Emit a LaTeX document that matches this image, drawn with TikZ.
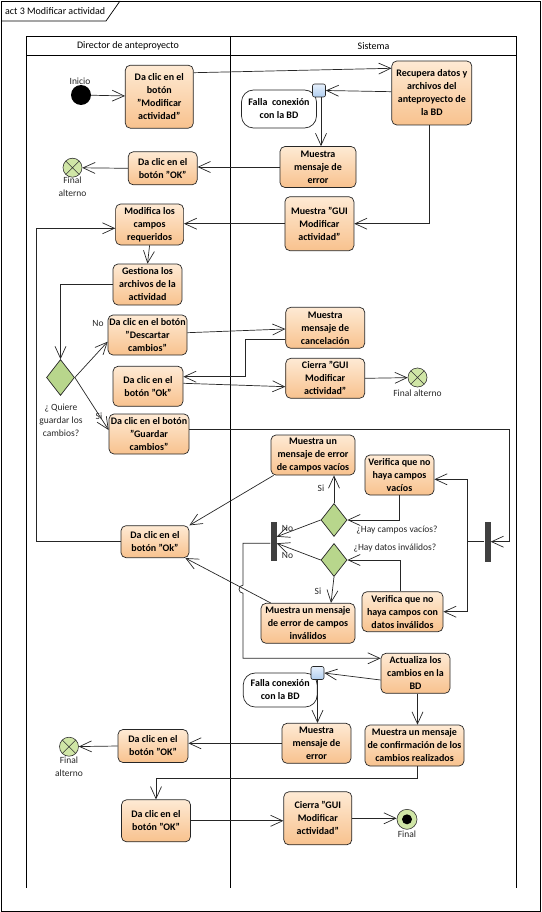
\documentclass[tikz,border=0pt]{standalone}
\usepackage{fontspec}
\setmainfont{Carlito}
\usetikzlibrary{arrows.meta,shapes.geometric,calc}

\definecolor{actTop}{RGB}{254,234,212}
\definecolor{actBot}{RGB}{248,194,142}
\definecolor{decFill}{RGB}{184,214,140}
\definecolor{endFill}{RGB}{208,230,166}
\definecolor{pinTop}{RGB}{230,240,252}
\definecolor{pinBot}{RGB}{176,206,240}
\definecolor{barFill}{RGB}{64,64,64}

\tikzset{
  act/.style={draw=black!85, line width=0.7pt, rounded corners=5pt,
    top color=actTop, bottom color=actBot, align=center, inner sep=1pt,
    font=\bfseries\fontsize{10}{13}\selectfont},
  failbox/.style={draw=black!85, line width=0.7pt, rounded corners=12pt,
    fill=white, align=center, inner sep=1pt,
    font=\bfseries\fontsize{10}{13}\selectfont},
  pinbox/.style={draw=black!85, line width=0.6pt, rounded corners=2pt,
    top color=pinTop, bottom color=pinBot, minimum size=13pt, inner sep=0pt},
  decision/.style={diamond, draw=black!85, line width=0.7pt, fill=decFill,
    minimum width=28pt, minimum height=36pt, inner sep=0pt},
  smalldec/.style={decision, minimum width=26pt, minimum height=33pt},
  forkbar/.style={draw=none, fill=barFill, minimum width=6pt, minimum height=40pt, inner sep=0pt},
  startnode/.style={circle, fill=black, minimum size=20pt, inner sep=0pt},
  altend/.style={circle, draw=black!80, line width=0.6pt, fill=endFill, minimum size=19pt, inner sep=0pt,
    path picture={\draw[line width=0.6pt, black!80]
      (path picture bounding box.south west) -- (path picture bounding box.north east)
      (path picture bounding box.north west) -- (path picture bounding box.south east);}},
  endnode/.style={circle, draw=black!80, line width=0.6pt, fill=endFill, minimum size=20pt, inner sep=0pt,
    path picture={\fill[black] (path picture bounding box.center) circle[radius=5pt];}},
  lbl/.style={font=\fontsize{9.5}{13}\selectfont, text=black!85, inner sep=0pt, align=center},
  head/.style={font=\fontsize{10}{13}\selectfont, text=black, inner sep=0pt},
  flow/.style={draw=black!85, line width=0.7pt, -{Straight Barb[length=12pt,width=11pt]}},
}

\begin{document}
\begin{tikzpicture}[x=1pt,y=-1pt]
\useasboundingbox (0,0) rectangle (541,912);

% frame with its name tab
\draw[line width=0.8pt] (1,1) rectangle (540,911);
\draw[line width=0.7pt] (1,21) -- (106,21) -- (120,1);
\node[head, anchor=west] (title) at (5,11) {act 3 Modificar actividad};

% swimlanes
\draw[line width=0.8pt] (26,36) rectangle (516.6,55);
\draw[line width=0.8pt] (26,55) -- (26,887.7) (230.5,36) -- (230.5,887.7) (516.6,55) -- (516.6,887.7);
\node[head] (laneA) at (128,45.7) {Director de anteproyecto};
\node[head] (laneB) at (373.5,45.7) {Sistema};

% ---------- nodes ----------
\node[startnode] (ini) at (81,95) {};
\node[lbl, anchor=south] (iniL) at (80,85) {Inicio};

\node[act, minimum width=68pt, minimum height=63pt] (A1) at (159.3,96.7)
  {Da clic en el\\botón\\"Modificar\\actividad"};
\node[act, minimum width=80pt, minimum height=64pt] (S1) at (431.8,93)
  {Recupera datos y\\archivos del\\anteproyecto de\\la BD};
\node[failbox, minimum width=75pt, minimum height=38pt] (F1b) at (279,109)
  {Falla\ \ conexión\\con la BD};
\node[pinbox] (P1) at (319,90.5) {};
\node[act, minimum width=76pt, minimum height=41pt] (S2) at (318,167)
  {Muestra\\mensaje de\\error};
\node[act, minimum width=69pt, minimum height=33pt] (A2) at (162.7,168.3)
  {Da clic en el\\botón "OK"};
\node[altend] (E1) at (72.5,167.7) {};
\node[lbl, anchor=north] (E1L) at (72.5,177) {Final\\alterno};

\node[act, minimum width=69pt, minimum height=54pt] (S3) at (319.4,223.7)
  {Muestra "GUI\\Modificar\\actividad"};
\node[act, minimum width=68pt, minimum height=41pt] (A3) at (149.6,224.5)
  {Modifica los\\campos\\requeridos};
\node[act, minimum width=69pt, minimum height=41pt] (A4) at (147.5,284.5)
  {Gestiona los\\archivos de la\\actividad};

\node[decision] (D1) at (60.5,377.5) {};
\node[lbl, anchor=north] (D1L) at (61,404) {¿ Quiere\\guardar los\\cambios?};

\node[act, minimum width=79pt, minimum height=40pt] (A5) at (147.5,335)
  {Da clic en el botón\\"Descartar\\cambios"};
\node[act, minimum width=79pt, minimum height=41pt] (S4) at (325.2,327.8)
  {Muestra\\mensaje de\\cancelación};
\node[act, minimum width=70pt, minimum height=40pt] (A7) at (148,386.3)
  {Da clic en el\\botón "Ok"};
\node[act, minimum width=79pt, minimum height=40pt] (S5) at (325.2,378.3)
  {Cierra "GUI\\Modificar\\actividad"};
\node[altend] (E2) at (417.5,377.5) {};
\node[lbl, anchor=north] (E2L) at (417.5,390) {Final alterno};
\node[act, minimum width=80pt, minimum height=40pt] (A6) at (149,434)
  {Da clic en el botón\\"Guardar\\cambios"};

\node[act, minimum width=84pt, minimum height=40pt] (S8) at (313,455)
  {Muestra un\\mensaje de error\\de campos vacíos};
\node[act, minimum width=69pt, minimum height=40pt] (S6) at (399.5,475)
  {Verifica que no\\haya campos\\vacíos};
\node[smalldec] (D2) at (334,520) {};
\node[smalldec] (D3) at (334,560) {};
\node[lbl] (D2L) at (397,530) {¿Hay campos vacíos?};
\node[lbl] (D3L) at (395,548) {¿Hay datos inválidos?};
\node[forkbar] (B1) at (487.5,541.7) {};
\node[forkbar, minimum height=39pt] (B2) at (273.5,541) {};
\node[act, minimum width=68pt, minimum height=32pt] (A8) at (155,541.7)
  {Da clic en el\\botón "Ok"};
\node[act, minimum width=94pt, minimum height=40pt] (S9) at (308,623.3)
  {Muestra un mensaje\\de error de campos\\inválidos};
\node[act, minimum width=81pt, minimum height=40pt] (S7) at (402.5,611.7)
  {Verifica que no\\haya campos con\\datos inválidos};

\node[act, minimum width=69pt, minimum height=40pt] (S10) at (415.5,673.3)
  {Actualiza los\\cambios en la\\BD};
\node[failbox, minimum width=74pt, minimum height=34pt] (F2b) at (280.2,690)
  {Falla conexión\\con la BD};
\node[pinbox] (P2) at (317.5,673) {};
\node[act, minimum width=69pt, minimum height=40pt] (S11) at (316.5,743.3)
  {Muestra\\mensaje de\\error};
\node[act, minimum width=99pt, minimum height=41pt] (S12) at (414.5,745.5)
  {Muestra un mensaje\\de confirmación de los\\cambios realizados};
\node[act, minimum width=70pt, minimum height=33pt] (A9) at (153,746)
  {Da clic en el\\botón "OK"};
\node[altend] (E3) at (69,746.7) {};
\node[lbl, anchor=north] (E3L) at (69,757) {Final\\alterno};

\node[act, minimum width=69pt, minimum height=42pt] (A10) at (156,820.8)
  {Da clic en el\\botón "OK"};
\node[act, minimum width=68pt, minimum height=53pt] (S13) at (317.8,818.3)
  {Cierra "GUI\\Modificar\\actividad"};
\node[endnode] (E4) at (407,819.3) {};
\node[lbl, anchor=north] (E4L) at (407,831) {Final};

% ---------- connectors ----------
\draw[flow] (ini) -- (A1);
\draw[flow] (A1.east |- 0,72.7) -- (S1.west |- 0,68.3);
\draw[flow] (S1.west |- 0,91.7) -- (P1.east);
\draw[flow] (P1.south -| 321,0) -- (S2.north -| 321,0);
\draw[flow] (S1.south -| 429.6,0) |- (S3.east);
\draw[flow] (S2.west) -- (S2.west -| A2.east);
\draw[flow] (A2.west) -- (E1);
\draw[flow] (S3.west) -- (S3.west -| A3.east);
\coordinate (loopA) at (36,541.7);
\draw[flow] (A8.west) -- (loopA) |- (A3.west |- 0,228.3);
\draw[flow] (A3.south) -- (A4.north);
\draw[flow] (A4.west) -| (D1.north);
\draw[flow] (D1.east) -- (A5.west |- 0,341.7);
\draw[flow] (D1.east) -- (A6.west |- 0,430);
\node[lbl] (noL1) at (98,323.5) {No};
\node[lbl] (siL1) at (99,416) {Si};
\draw[flow] (A5.east |- 0,332.7) -- (S4.west |- 0,329);
\coordinate (cancBend) at (245.7,339);
\draw[flow] (S4.west |- 0,339) -- (cancBend) |- (A7.east |- 0,376.7);
\draw[flow] (A7.east |- 0,383.3) -- (S5.west |- 0,386.7);
\draw[flow] (S5.east) -- (E2);
\coordinate (saveBend) at (509,429.3);
\draw[flow] (A6.east |- saveBend) -- (saveBend) |- (B1.east);
\coordinate (forkSplit) at (467.5,541.7);
\draw[flow] (B1.west) -- (forkSplit) |- (S6.east |- 0,479.3);
\draw[flow] (forkSplit) |- (S7.east);
\draw[flow] (S6.south) |- (D2.east);
\draw[flow] (D2.north) -- (D2.north |- S8.south);
\node[lbl] (siL2) at (321,488.3) {Si};
\draw[flow] (D2.west) -- (B2.east |- 0,536.7);
\node[lbl] (noL2) at (287.5,528.3) {No};
\draw[flow] (S7.north -| 400,0) |- (D3.east);
\draw[flow] (D3.west) -- (B2.east |- 0,543.3);
\node[lbl] (noL3) at (287.5,555.5) {No};
\draw[flow] (D3.south) -- (S9.north -| 331,0);
\node[lbl] (siL3) at (318,591.7) {Si};
\draw[flow] (S8.south west) ++(3,0) -- (A8.north east);
\draw[flow] (S9.north west) ++(10,0) -- ([xshift=-4pt]A8.south east);
% path from the join bar, hopping over the crossing line
\coordinate (joinTop) at (243,543.3);
\coordinate (joinLow) at (243,658.3);
\draw[flow] (B2.west |- joinTop) -- (joinTop) -- (243,585.2)
  arc[start angle=270, end angle=90, radius=4] -- (joinLow) -- (S10.west |- joinLow);
\draw[flow] (S10.west |- 0,680) -- (P2.east);
\draw[flow] (P2.south) -- (P2.south |- S11.north);
\draw[flow] (S10.south -| 417.5,0) -- (S12.north -| 417.5,0);
\draw[flow] (S11.west) -- (S11.west -| A9.east);
\draw[flow] (A9.west) -- (E3);
\coordinate (confBend) at (417.5,778.3);
\draw[flow] (S12.south -| confBend) -- (confBend) -| (A10.north);
\draw[flow] (A10.east) -- (A10.east -| S13.west);
\draw[flow] (S13.east) -- (S13.east -| E4.west);
\end{tikzpicture}
\end{document}
